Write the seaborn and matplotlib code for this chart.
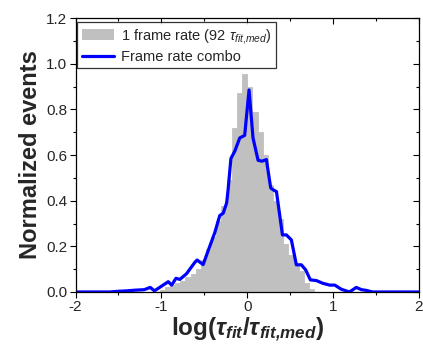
import numpy as np
import pandas as pd
import matplotlib
matplotlib.use("Agg")
import matplotlib.pyplot as plt
import seaborn as sns
from matplotlib.patches import Patch
from matplotlib.lines import Line2D
from matplotlib.ticker import MultipleLocator

# Histogram: "1 frame rate" (bin centers and normalized heights)
hist_centers = [-0.99, -0.93, -0.87, -0.81, -0.75, -0.69, -0.63, -0.57, -0.51, -0.45,
                -0.39, -0.33, -0.27, -0.21, -0.15, -0.09, -0.03, 0.03, 0.09, 0.15,
                0.21, 0.27, 0.33, 0.39, 0.45, 0.51, 0.57, 0.63, 0.69, 0.75]
hist_heights = [0.01, 0.02, 0.03, 0.04, 0.05, 0.065, 0.08, 0.10, 0.14, 0.19,
                0.24, 0.31, 0.375, 0.49, 0.72, 0.87, 0.955, 0.90, 0.79, 0.70,
                0.60, 0.47, 0.40, 0.32, 0.21, 0.16, 0.12, 0.09, 0.04, 0.015]

# Line: "Frame rate combo"
combo_x = [-2.0, -1.6, -1.5, -1.4, -1.3, -1.2, -1.13, -1.08, -1.02, -0.92, -0.88, -0.83,
           -0.785, -0.707, -0.61, -0.584, -0.514, -0.456, -0.378, -0.32, -0.28, -0.24,
           -0.223, -0.19, -0.145, -0.087, -0.03, 0.021, 0.067, 0.126, 0.172, 0.223,
           0.273, 0.30, 0.34, 0.41, 0.456, 0.514, 0.572, 0.63, 0.68, 0.735, 0.805,
           0.88, 0.96, 1.02, 1.095, 1.19, 1.27, 1.33, 1.385, 1.46, 2.0]
combo_y = [0.0, 0.0, 0.003, 0.005, 0.008, 0.01, 0.02, 0.005, 0.02, 0.045, 0.03, 0.06,
           0.055, 0.08, 0.13, 0.14, 0.12, 0.18, 0.26, 0.335, 0.345, 0.39,
           0.448, 0.585, 0.617, 0.675, 0.686, 0.885, 0.675, 0.577, 0.573, 0.58,
           0.456, 0.448, 0.44, 0.25, 0.25, 0.228, 0.119, 0.119, 0.097, 0.053, 0.05,
           0.038, 0.03, 0.03, 0.012, 0.0, 0.02, 0.01, 0.007, 0.0, 0.0]

hist_label = r"1 frame rate (92 $\mathit{\tau}_{\mathit{fit{,}med}}$)"
combo_label = "Frame rate combo"

sns.set_style("ticks")
plt.rcParams["font.family"] = ["Liberation Sans", "DejaVu Sans"]
plt.rcParams["mathtext.fontset"] = "custom"
plt.rcParams["mathtext.rm"] = "Liberation Sans"
plt.rcParams["mathtext.it"] = "Liberation Sans:italic"
plt.rcParams["mathtext.bf"] = "Liberation Sans:bold"
plt.rcParams["mathtext.bfit"] = "Liberation Sans:bold:italic"

fig = plt.figure(figsize=(4.23, 3.48), dpi=100)
ax = fig.add_axes([0.1785, 0.161, 0.812, 0.787])

hist_df = pd.DataFrame({"x": hist_centers, "w": hist_heights})
combo_df = pd.DataFrame({"x": combo_x, "y": combo_y})

edges = [round(v, 4) for v in np.arange(-1.02, 0.7801, 0.06)]
sns.histplot(data=hist_df, x="x", weights="w", bins=edges, stat="count",
             color="#c0c0c0", alpha=1, edgecolor="#c0c0c0", linewidth=0.6, ax=ax)
sns.lineplot(data=combo_df, x="x", y="y", color="#0000ff", linewidth=2.3,
             sort=False, ax=ax)

ax.set_xlim(-2, 2)
ax.set_ylim(0, 1.2)
ax.xaxis.set_major_locator(MultipleLocator(1))
ax.xaxis.set_minor_locator(MultipleLocator(0.5))
ax.yaxis.set_major_locator(MultipleLocator(0.2))
ax.yaxis.set_minor_locator(MultipleLocator(0.1))
ax.yaxis.set_major_formatter(matplotlib.ticker.FormatStrFormatter("%.1f"))
ax.xaxis.set_major_formatter(matplotlib.ticker.FormatStrFormatter("%d"))

for s in ax.spines.values():
    s.set_visible(True)
    s.set_color("black")
    s.set_linewidth(0.9)

ax.tick_params(which="both", direction="out", color="black", width=0.8,
               labelsize=11, pad=2)
ax.tick_params(which="major", length=4)
ax.tick_params(which="minor", length=2.5)
ax.tick_params(which="both", top=True, right=True)
# mirror ticks inward on top / right
for t in ax.xaxis.get_major_ticks() + ax.xaxis.get_minor_ticks():
    t.tick2line.set_marker(matplotlib.lines.TICKDOWN)
for t in ax.yaxis.get_major_ticks() + ax.yaxis.get_minor_ticks():
    t.tick2line.set_marker(matplotlib.lines.TICKLEFT)

ax.set_ylabel("Normalized events", fontsize=17, fontweight="bold", labelpad=3)
ax.set_xlabel(r"$\mathbf{log(}\mathbfit{\tau}_{\mathbfit{fit}}\mathbf{/}"
              r"\mathbfit{\tau}_{\mathbfit{fit{,}med}}\mathbf{)}$",
              fontsize=17.5, labelpad=1)

handles = [Patch(facecolor="#c0c0c0", edgecolor="none", label=hist_label),
           Line2D([0], [0], color="#0000ff", lw=2.3, label=combo_label)]
leg = ax.legend(handles=handles, loc="upper left", bbox_to_anchor=(0.005, 0.985),
                fontsize=10.5, frameon=True, fancybox=False, borderpad=0.3,
                labelspacing=0.3, handlelength=2.2, handletextpad=0.5,
                borderaxespad=0)
leg.get_frame().set_edgecolor("black")
leg.get_frame().set_linewidth(0.9)

fig.savefig("out.png", dpi=100)
